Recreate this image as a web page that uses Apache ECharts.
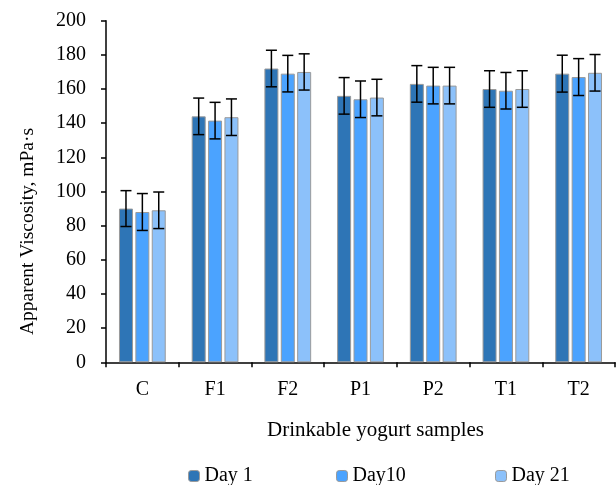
<!DOCTYPE html>
<html>
<head>
<meta charset="utf-8">
<script src="https://cdn.jsdelivr.net/npm/echarts@6/dist/echarts.min.js"></script>
<style>
  html, body { margin: 0; padding: 0; background: #fff; }
  #chart { width: 616px; height: 485px; }
</style>
</head>
<body>
<div id="chart"></div>
<script>
// 样品
var samples = ['C', 'F1', 'F2', 'P1', 'P2', 'T1', 'T2'];
var seriesNames = ['Day 1', 'Day10', 'Day 21'];
// 表观粘度 (mPa·s)
var day1 = [90, 144, 172, 156, 163, 160, 169];
var day10 = [88, 141.5, 169, 154, 162, 159, 167];
var day21 = [89, 143.5, 170, 155, 162, 160, 169.5];
// 标准差
var err1 = [10.5, 10.7, 10.7, 10.7, 10.7, 10.7, 10.8];
var err10 = [10.8, 10.7, 10.7, 10.7, 10.7, 10.7, 10.8];
var err21 = [10.7, 10.7, 10.6, 10.7, 10.7, 10.7, 10.7];
var yTicks = [0, 20, 40, 60, 80, 100, 120, 140, 160, 180, 200];

var colors = ['#2E75B6', '#4BA3FF', '#8CC1FA'];
var font = 'Liberation Serif';
var barWidth = 14;
var barGap = 0.17; // 相对柱宽

var myChart = echarts.init(document.getElementById('chart'));

// 误差线
function errorSeries(idx, values, errs) {
	var data = [];
	for (var i = 0; i < values.length; i++) {
		data.push([i, values[i] - errs[i], values[i] + errs[i]]);
	}
	return {
		type : 'custom',
		name : seriesNames[idx] + ' err',
		z : 10,
		silent : true,
		data : data,
		renderItem : function(params, api) {
			var lo = api.coord([api.value(0), api.value(1)]);
			var hi = api.coord([api.value(0), api.value(2)]);
			var x = lo[0] + (idx - 1) * barWidth * (1 + barGap);
			var cap = 5.5;
			var style = { stroke : '#000', lineWidth : 1.5 };
			return {
				type : 'group',
				children : [ {
					type : 'line',
					shape : { x1 : x, y1 : hi[1], x2 : x, y2 : lo[1] },
					style : style
				}, {
					type : 'line',
					shape : { x1 : x - cap, y1 : hi[1], x2 : x + cap, y2 : hi[1] },
					style : style
				}, {
					type : 'line',
					shape : { x1 : x - cap, y1 : lo[1], x2 : x + cap, y2 : lo[1] },
					style : style
				} ]
			};
		}
	};
}

function barSeries(idx, values) {
	return {
		name : seriesNames[idx],
		type : 'bar',
		data : values,
		barWidth : barWidth,
		barGap : (barGap * 100) + '%',
		itemStyle : {
			color : colors[idx],
			borderColor : '#9a9a9a',
			borderWidth : 1
		}
	};
}

var legendLefts = [188, 336, 495];
var legends = [];
for (var k = 0; k < 3; k++) {
	legends.push({
		left : legendLefts[k],
		top : 466,
		padding : 0,
		itemWidth : 11,
		itemHeight : 11,
		data : [ { name : seriesNames[k], itemStyle : { borderColor : '#9a9a9a', borderWidth : 1 } } ],
		selectedMode : false,
		textStyle : { fontFamily : font, fontSize : 20, color : '#000' }
	});
}

var option = {
	animation : false,
	backgroundColor : '#fff',
	legend : legends,
	grid : {
		left : 106,
		right : 1,
		top : 20.7,
		bottom : 122.7
	},
	xAxis : {
		type : 'category',
		data : samples,
		name : 'Drinkable yogurt samples',
		nameLocation : 'middle',
		nameGap : 58,
		nameTextStyle : { fontFamily : font, fontSize : 21, color : '#000', padding : [0, 0, 0, 30] },
		axisLine : { lineStyle : { color : '#000', width : 1.5 } },
		axisTick : { show : true, length : 5, lineStyle : { color : '#000', width : 1.5 } },
		axisLabel : { fontFamily : font, fontSize : 20, color : '#000', margin : 17 },
		splitLine : { show : false }
	},
	yAxis : {
		type : 'value',
		min : yTicks[0],
		max : yTicks[yTicks.length - 1],
		interval : 20,
		name : 'Apparent Viscosity, mPa·s',
		nameLocation : 'middle',
		nameGap : 68,
		nameTextStyle : { fontFamily : font, fontSize : 19.5, color : '#000', padding : [0, 80, 0, 0] },
		axisLine : { show : true, lineStyle : { color : '#000', width : 1.5 } },
		axisTick : { show : true, length : 5, lineStyle : { color : '#000', width : 1.5 } },
		axisLabel : { fontFamily : font, fontSize : 20, color : '#000', margin : 20 },
		splitLine : { show : false }
	},
	series : [
		barSeries(0, day1),
		barSeries(1, day10),
		barSeries(2, day21),
		errorSeries(0, day1, err1),
		errorSeries(1, day10, err10),
		errorSeries(2, day21, err21)
	]
};

myChart.setOption(option);
</script>
</body>
</html>
